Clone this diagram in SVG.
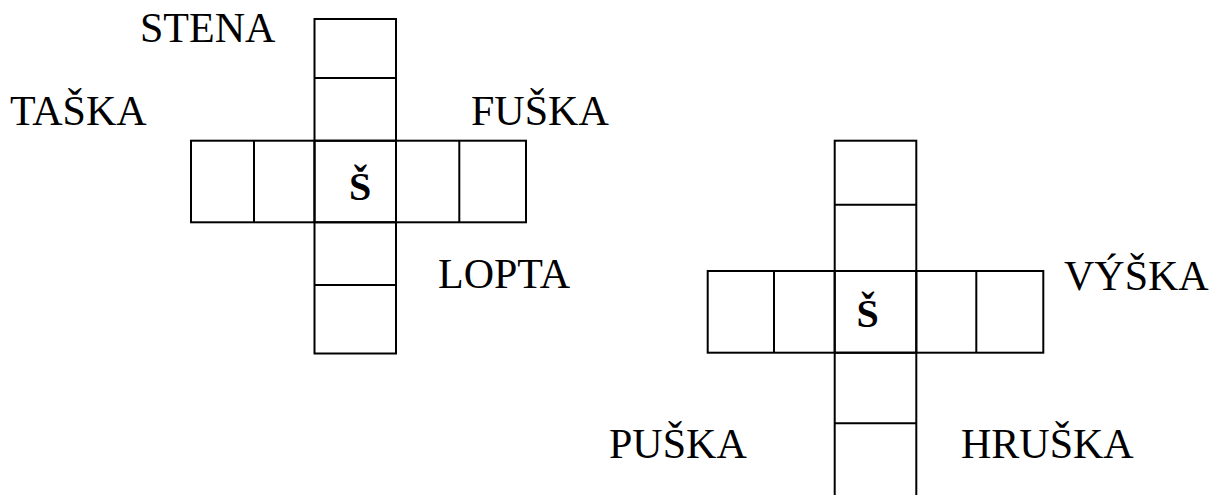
<svg xmlns="http://www.w3.org/2000/svg" width="1219" height="495" viewBox="0 0 1219 495">
<style>
.c{fill:none;stroke:#000;stroke-width:2}
.w{font-family:"Liberation Serif","Times New Roman",serif;font-size:42px;fill:#000}
.s{font-family:"Liberation Serif","Times New Roman",serif;font-size:40px;font-weight:bold;fill:#000}
</style>
<rect width="1219" height="495" fill="#fff"/>
<g id="cross1">
<rect class="c" x="314.5" y="19" width="81.5" height="334.5"/>
<rect class="c" x="191" y="140.7" width="335" height="81.6"/>
<line class="c" x1="314.5" y1="78" x2="396" y2="78"/>
<line class="c" x1="314.5" y1="140.7" x2="396" y2="140.7"/>
<line class="c" x1="314.5" y1="222.3" x2="396" y2="222.3"/>
<line class="c" x1="314.5" y1="285" x2="396" y2="285"/>
<line class="c" x1="254" y1="140.7" x2="254" y2="222.3"/>
<line class="c" x1="314.5" y1="140.7" x2="314.5" y2="222.3"/>
<line class="c" x1="396" y1="140.7" x2="396" y2="222.3"/>
<line class="c" x1="459.3" y1="140.7" x2="459.3" y2="222.3"/>
<text class="s" x="360" y="200" text-anchor="middle">Š</text>
</g>
<g id="cross2">
<rect class="c" x="834.7" y="140.7" width="81.6" height="360"/>
<rect class="c" x="707.7" y="271" width="335.6" height="81.7"/>
<line class="c" x1="834.7" y1="204.7" x2="916.3" y2="204.7"/>
<line class="c" x1="834.7" y1="271" x2="916.3" y2="271"/>
<line class="c" x1="834.7" y1="352.7" x2="916.3" y2="352.7"/>
<line class="c" x1="834.7" y1="423.3" x2="916.3" y2="423.3"/>
<line class="c" x1="774" y1="271" x2="774" y2="352.7"/>
<line class="c" x1="834.7" y1="271" x2="834.7" y2="352.7"/>
<line class="c" x1="916.3" y1="271" x2="916.3" y2="352.7"/>
<line class="c" x1="976.3" y1="271" x2="976.3" y2="352.7"/>
<text class="s" x="867.5" y="327" text-anchor="middle">Š</text>
</g>
<g id="labels">
<text class="w" x="140" y="42">STENA</text>
<text class="w" x="10" y="125">TAŠKA</text>
<text class="w" x="471" y="125">FUŠKA</text>
<text class="w" x="438" y="288">LOPTA</text>
<text class="w" x="1064" y="290">VÝŠKA</text>
<text class="w" x="609" y="458">PUŠKA</text>
<text class="w" x="961" y="458">HRUŠKA</text>
</g>
</svg>
